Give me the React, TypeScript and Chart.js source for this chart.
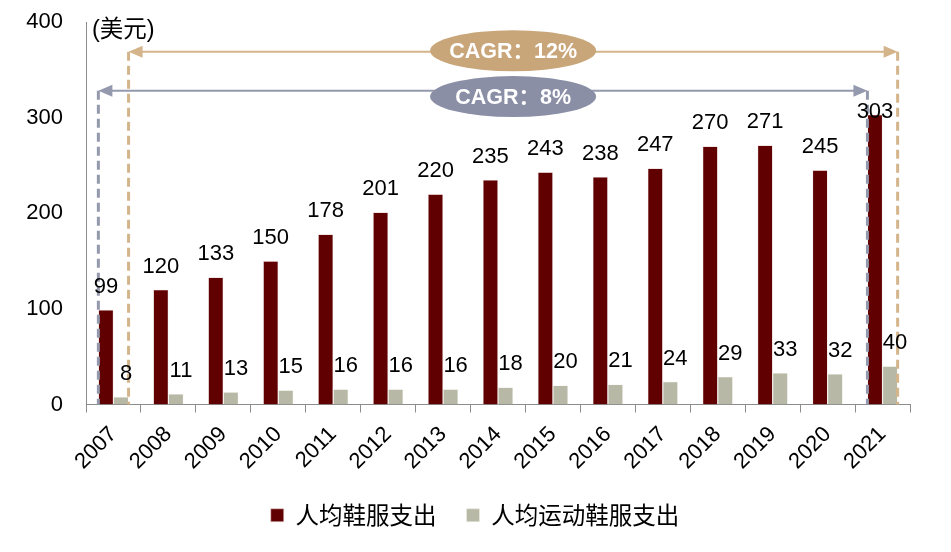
import React, { useEffect, useRef } from "react";
import { Chart, registerables } from "chart.js";

Chart.register(...registerables);

const years = ["2007", "2008", "2009", "2010", "2011", "2012", "2013", "2014", "2015", "2016", "2017", "2018", "2019", "2020", "2021"];
const shoeSpend = [99, 120, 133, 150, 178, 201, 220, 235, 243, 238, 247, 270, 271, 245, 303];
const sportShoeSpend = [8, 11, 13, 15, 16, 16, 16, 18, 20, 21, 24, 29, 33, 32, 40];
const seriesNames = ["人均鞋服支出", "人均运动鞋服支出"];
const yTicks = [0, 100, 200, 300, 400];
const unitLabel = "(美元)";
const cagrTexts = ["CAGR：12%", "CAGR：8%"];

const NUM_FONT = '"Liberation Sans", Arial, "Noto Sans CJK SC", sans-serif';
const CJK_FONT = '"Noto Sans CJK SC", "Liberation Sans", sans-serif';

const DARK = "#600000";
const LIGHT = "#b8b8a6";
const LABEL_DX = [0, 5];

// each span: which bar edge it starts/ends on, line level and pill level (axis units)
const spans = [
  { ds: 1, side: 1, lineAt: 369, pillAt: 370, line: "#d4b48a", pill: "#c9a67a", text: cagrTexts[0] },
  { ds: 0, side: -1, lineAt: 328, pillAt: 322, line: "#9499ad", pill: "#8a8fa6", text: cagrTexts[1] },
];

const arrowHead = (ctx: CanvasRenderingContext2D, x: number, y: number, dir: number) => {
  ctx.beginPath();
  ctx.moveTo(x, y);
  ctx.lineTo(x - dir * 14, y - 6);
  ctx.lineTo(x - dir * 14, y + 6);
  ctx.closePath();
  ctx.fill();
};

const cagrPlugin = {
  id: "cagr",
  afterDatasetsDraw(chart: any) {
    const { ctx, chartArea, scales } = chart;
    const last = years.length - 1;
    const ref = chart.getDatasetMeta(1).data;
    const midX = (ref[0].x + ref[0].width / 2 + ref[last].x + ref[last].width / 2) / 2;
    ctx.save();
    spans.forEach((s) => {
      const bars = chart.getDatasetMeta(s.ds).data;
      const x1 = bars[0].x + (s.side * bars[0].width) / 2;
      const x2 = bars[last].x + (s.side * bars[last].width) / 2;
      const ly = scales.y.getPixelForValue(s.lineAt);
      ctx.strokeStyle = s.line;
      ctx.fillStyle = s.line;
      ctx.lineWidth = 3;
      ctx.setLineDash([9, 5]);
      [x1, x2].forEach((x) => {
        ctx.beginPath();
        ctx.moveTo(x, ly);
        ctx.lineTo(x, chartArea.bottom);
        ctx.stroke();
      });
      ctx.setLineDash([]);
      ctx.lineWidth = 2;
      ctx.beginPath();
      ctx.moveTo(x1 + 10, ly);
      ctx.lineTo(x2 - 10, ly);
      ctx.stroke();
      arrowHead(ctx, x1, ly, -1);
      arrowHead(ctx, x2, ly, 1);

      const py = scales.y.getPixelForValue(s.pillAt);
      ctx.fillStyle = s.pill;
      ctx.beginPath();
      ctx.ellipse(midX, py, 83, 20.5, 0, 0, Math.PI * 2);
      ctx.fill();
      ctx.fillStyle = "#ffffff";
      ctx.font = `bold 21.5px ${NUM_FONT}`;
      ctx.textAlign = "center";
      ctx.textBaseline = "middle";
      ctx.fillText(s.text, midX, py + 1);
    });

    ctx.fillStyle = "#000000";
    ctx.font = `23.5px ${NUM_FONT}`;
    ctx.textAlign = "left";
    ctx.textBaseline = "middle";
    ctx.fillText(unitLabel, chartArea.left + 6, chartArea.top + 9);
    ctx.restore();
  },
};

const valueLabelPlugin = {
  id: "valueLabels",
  afterDatasetsDraw(chart: any) {
    const { ctx, scales } = chart;
    const ceiling = scales.y.getPixelForValue(spans[1].lineAt) + 27;
    ctx.save();
    ctx.fillStyle = "#000000";
    ctx.font = `22px ${NUM_FONT}`;
    ctx.textAlign = "center";
    ctx.textBaseline = "alphabetic";
    chart.data.datasets.forEach((ds: any, i: number) => {
      chart.getDatasetMeta(i).data.forEach((el: any, j: number) => {
        const y = Math.max(el.y - 17, ceiling);
        ctx.fillText(String(ds.data[j]), el.x + LABEL_DX[i], y);
      });
    });
    ctx.restore();
  },
};

// legend sits a bit right of centre in the original
const legendNudge = {
  id: "legendNudge",
  afterLayout(chart: any) {
    if (chart.legend) {
      chart.legend.left += 20;
      chart.legend.right += 20;
    }
  },
};

export default function App() {
  const canvasRef = useRef<HTMLCanvasElement | null>(null);

  useEffect(() => {
    document.body.style.margin = "0";
    const canvas = canvasRef.current;
    if (!canvas) return;

    const chart = new Chart(canvas, {
      type: "bar",
      data: {
        labels: years,
        datasets: [
          { label: seriesNames[0], data: shoeSpend, backgroundColor: DARK, borderColor: "#e6d2d2", borderWidth: 0.6, categoryPercentage: 0.55, barPercentage: 1 },
          { label: seriesNames[1], data: sportShoeSpend, backgroundColor: LIGHT, borderColor: "#eeeee6", borderWidth: 0.6, categoryPercentage: 0.55, barPercentage: 1 },
        ],
      },
      options: {
        responsive: false,
        animation: false,
        layout: { padding: { left: 0, right: 41, top: 22, bottom: 15 } },
        scales: {
          x: {
            grid: { display: true, drawOnChartArea: false, offset: true, color: "#8c8c8c", tickLength: 8 },
            border: { color: "#8c8c8c" },
            ticks: {
              color: "#000",
              font: { size: 22, family: NUM_FONT },
              minRotation: 45,
              maxRotation: 45,
              padding: 9,
            },
            afterFit: (scale: any) => {
              scale.height = 69;
              scale.paddingLeft = 0;
              scale.paddingRight = 0;
            },
          },
          y: {
            min: yTicks[0],
            max: yTicks[yTicks.length - 1],
            grid: { display: false, drawTicks: false },
            border: { display: true, color: "#8c8c8c" },
            ticks: {
              stepSize: 100,
              color: "#000",
              font: { size: 22, family: NUM_FONT },
              padding: 23,
            },
            afterFit: (scale: any) => {
              scale.width = 86;
              scale.paddingTop = 0;
              scale.paddingBottom = 0;
            },
          },
        },
        plugins: {
          legend: {
            position: "bottom",
            labels: {
              color: "#000",
              font: { size: 23.5, family: CJK_FONT },
              boxWidth: 13,
              boxHeight: 13,
              padding: 30,
            },
          },
          tooltip: { enabled: false },
        },
      },
      plugins: [cagrPlugin, valueLabelPlugin, legendNudge],
    });

    return () => {
      chart.destroy();
    };
  }, []);

  return (
    <div style={{ width: 951, height: 552 }}>
      <canvas ref={canvasRef} width={951} height={552} />
    </div>
  );
}
